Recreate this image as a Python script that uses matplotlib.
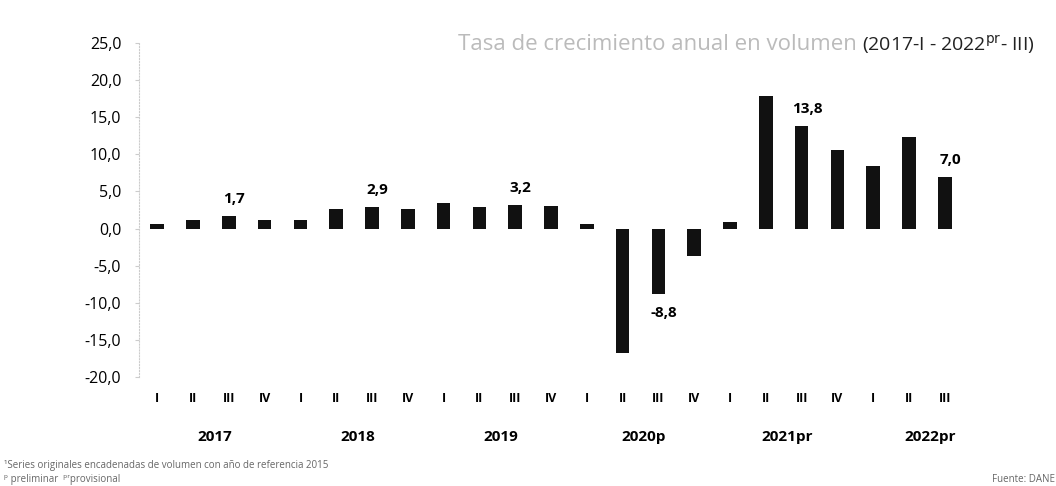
import matplotlib
matplotlib.use("Agg")
import matplotlib.pyplot as plt
from matplotlib.transforms import blended_transform_factory

# quarterly annual growth rate, volume (%)
quarters = ["I", "II", "III", "IV"] * 5 + ["I", "II", "III"]
years = ["2017", "2018", "2019", "2020p", "2021pr", "2022pr"]
growth = [0.6, 1.1, 1.7, 1.2, 1.1, 2.6, 2.9, 2.6, 3.4, 2.9, 3.2, 3.1,
          0.6, -16.7, -8.8, -3.7, 0.9, 17.9, 13.8, 10.6, 8.4, 12.4, 7.0]
labelled = {2: "1,7", 6: "2,9", 10: "3,2", 14: "-8,8", 18: "13,8", 22: "7,0"}

plt.rcParams["font.family"] = ["Open Sans", "DejaVu Sans"]

fig = plt.figure(figsize=(10.56, 4.86), dpi=100)
ax = fig.add_axes([0.132, 1 - 377 / 486, 0.783, (377 - 43) / 486])

x = list(range(len(growth)))
ax.bar(x, growth, width=0.38, color="#111111")

for i, txt in labelled.items():
    v = growth[i]
    off = 12 if v > 0 else -14
    ax.annotate(txt, (i, v), xytext=(4, off), textcoords="offset points",
                ha="center", va="center", fontsize=11, fontweight="bold")

ax.set_xlim(-0.5, 22.6)
ax.set_ylim(-20, 25)
ax.set_yticks(range(-20, 26, 5))
ax.set_yticklabels([f"{t:.1f}".replace(".", ",") for t in range(-20, 26, 5)], fontsize=11.5)
ax.set_xticks(x)
ax.set_xticklabels(quarters, fontsize=9, fontweight="bold")
ax.tick_params(axis="x", length=0, pad=11)
ax.tick_params(axis="y", length=3, color="#cccccc", pad=10)

for side in ["top", "right", "bottom"]:
    ax.spines[side].set_visible(False)
ax.spines["left"].set_color("#cccccc")
ax.spines["left"].set_linestyle(":")
ax.spines["left"].set_linewidth(0.8)

trans = blended_transform_factory(ax.transData, ax.transAxes)
for k, yr in enumerate(years):
    ax.text(4 * k + 1.6, -0.18, yr, transform=trans, ha="center", va="center",
            fontsize=11, fontweight="bold")

# title in two tones like the scanned original
t2 = fig.text(1035 / 1056, 1 - 45 / 486, r"(2017-I - 2022$^{\mathrm{pr}}$- III)",
              ha="right", va="center", fontsize=14, color="#222222")
fig.canvas.draw()
bb = t2.get_window_extent()
fig.text((bb.x0 - 5) / 1056, 1 - 45 / 486, "Tasa de crecimiento anual en volumen",
         ha="right", va="center", fontsize=16, color="#bbbbbb")

fig.text(0.004, 1 - 465 / 486, "¹Series originales encadenadas de volumen con año de referencia 2015",
         ha="left", va="center", fontsize=7, color="#666666")
fig.text(0.004, 1 - 479 / 486, "ᵖ preliminar  ᵖʳprovisional",
         ha="left", va="center", fontsize=7, color="#666666")
fig.text(0.999, 1 - 479 / 486, "Fuente: DANE", ha="right", va="center",
         fontsize=7, color="#666666")

fig.savefig("out.png", dpi=100)
